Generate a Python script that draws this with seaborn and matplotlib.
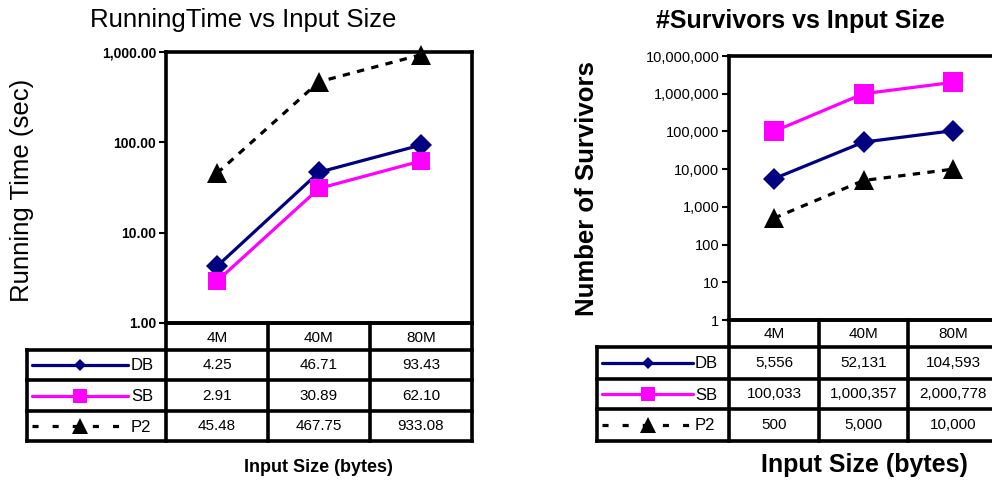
import matplotlib
matplotlib.use("Agg")
import numpy as np
import pandas as pd
import matplotlib.pyplot as plt
import seaborn as sns

# ---- data ----
sizes = ["4M", "40M", "80M"]
series = ["DB", "SB", "P2"]

time_db = [4.25, 46.71, 93.43]
time_sb = [2.91, 30.89, 62.10]
time_p2 = [45.48, 467.75, 933.08]

surv_db = [5556, 52131, 104593]
surv_sb = [100033, 1000357, 2000778]
surv_p2 = [500, 5000, 10000]

time_ticks = [1, 10, 100, 1000]
surv_ticks = [1, 10, 100, 1000, 10000, 100000, 1000000, 10000000]

colors = {"DB": "#000080", "SB": "#FF00FF", "P2": "#000000"}
markers = {"DB": "D", "SB": "s", "P2": "^"}
styles = {"DB": "-", "SB": "-", "P2": (0, (2.3, 2.3))}
leg_styles = {"DB": "-", "SB": "-", "P2": (0, (1.9, 4.4))}
leg_msize = {"DB": 6.5, "SB": 9.5, "P2": 11}

W, H = 992, 483

sns.set_style("white")
plt.rcParams["font.family"] = ["Liberation Sans", "DejaVu Sans"]
for key in ["text.color", "axes.labelcolor", "xtick.color", "ytick.color"]:
    plt.rcParams[key] = "black"

fig = plt.figure(figsize=(W / 100, H / 100), dpi=100)


def px_axes(x0, y0, x1, y1, **kw):
    return fig.add_axes([x0 / W, 1 - y1 / H, (x1 - x0) / W, (y1 - y0) / H], **kw)


def long_frame(db, sb, p2):
    rows = []
    for name, vals in zip(series, [db, sb, p2]):
        for i, v in enumerate(vals):
            rows.append({"pos": i + 0.5, "value": v, "series": name})
    return pd.DataFrame(rows)


# overlay in pixel coordinates for the data tables
over = fig.add_axes([0, 0, 1, 1], zorder=0)
over.set_xlim(0, W)
over.set_ylim(H, 0)
over.axis("off")


def draw_panel(box, table, df, ticks, tick_fmt, tick_bold, msizes, leg):
    x0, y0, x1, y1 = box
    ax = px_axes(x0, y0, x1, y1, zorder=2)
    ax.set_yscale("log")
    for name in ["P2", "DB", "SB"]:
        sub = df[df["series"] == name]
        sns.lineplot(data=sub, x="pos", y="value", ax=ax, color=colors[name],
                     marker=markers[name], markersize=msizes[name],
                     markeredgewidth=0, linewidth=2.3, linestyle=styles[name],
                     errorbar=None, legend=False, clip_on=False)
    ax.set_xlim(0, 3)
    ax.set_ylim(ticks[0], ticks[-1])
    ax.set_yticks(ticks)
    ax.set_yticklabels([tick_fmt(t) for t in ticks],
                       fontweight="bold" if tick_bold else "normal",
                       fontsize=10 if tick_bold else 10.5)
    ax.minorticks_off()
    ax.set_xticks([])
    ax.set_xlabel("")
    ax.set_ylabel("")
    ax.tick_params(axis="y", direction="out", length=5, width=1.5, pad=2, left=True)
    for sp in ax.spines.values():
        sp.set_linewidth(2.6)
        sp.set_color("black")
    ax.patch.set_alpha(0)

    # ---- data table ----
    legx0, cols, head_y, rows_y = table
    kw = dict(color="black", lw=2.6, solid_capstyle="projecting")
    over.plot([cols[0], cols[-1]], [head_y, head_y], **kw)
    for c in cols:
        over.plot([c, c], [head_y, rows_y[-1]], **kw)
    for ry in rows_y:
        over.plot([legx0, cols[-1]], [ry, ry], **kw)
    over.plot([legx0, legx0], [rows_y[0], rows_y[-1]], **kw)
    for i, s in enumerate(sizes):
        over.text((cols[i] + cols[i + 1]) / 2, (head_y + rows_y[0]) / 2 + 1, s,
                  ha="center", va="center", fontsize=11)
    leg_x0, leg_x1, leg_m, lab_x = leg
    for r, name in enumerate(series):
        cy = (rows_y[r] + rows_y[r + 1]) / 2
        vals = df[df["series"] == name]["value"].tolist()
        for i, v in enumerate(vals):
            over.text((cols[i] + cols[i + 1]) / 2, cy, tick_fmt(v),
                      ha="center", va="center", fontsize=11)
        over.plot([leg_x0, leg_x1], [cy, cy], color=colors[name], lw=2.3,
                  linestyle=leg_styles[name])
        over.plot([leg_m], [cy], marker=markers[name], color=colors[name],
                  markersize=leg_msize[name], markeredgewidth=0)
        over.text(lab_x, cy + 1, name, ha="left", va="center", fontsize=12)
    return ax


def fmt_time(v):
    return f"{v:,.2f}"


def fmt_surv(v):
    return f"{int(v):,}"


# ---- left panel ----
df_time = long_frame(time_db, time_sb, time_p2)
draw_panel((166, 52, 472, 323),
           (27, [166, 268, 370, 472], 323, [350, 380, 411, 441]),
           df_time, time_ticks, fmt_time, True,
           {"DB": 11, "SB": 13, "P2": 14},
           (32, 128, 80, 131))
fig.text(243 / W, 1 - 20 / H, "RunningTime vs Input Size", ha="center",
         va="center", fontsize=18.5)
fig.text(22 / W, 1 - 190 / H, "Running Time (sec)", ha="center", va="center",
         rotation=90, fontsize=18.5)
fig.text(318 / W, 1 - 468 / H, "Input Size (bytes)", ha="center", va="center",
         fontsize=13, fontweight="bold")

# ---- right panel ----
df_surv = long_frame(surv_db, surv_sb, surv_p2)
draw_panel((729, 56, 998, 320),
           (597, [729, 819, 908, 998], 320, [347, 379, 409, 441]),
           df_surv, surv_ticks, fmt_surv, False,
           {"DB": 11, "SB": 14.5, "P2": 14.5},
           (602, 693, 648, 695))
fig.text(800 / W, 1 - 21 / H, "#Survivors vs Input Size", ha="center",
         va="center", fontsize=18, fontweight="bold")
fig.text(587 / W, 1 - 189 / H, "Number of Survivors", ha="center", va="center",
         rotation=90, fontsize=18.5, fontweight="bold")
fig.text(864 / W, 1 - 465 / H, "Input Size (bytes)", ha="center", va="center",
         fontsize=18, fontweight="bold")

fig.savefig("out.png", dpi=100)
